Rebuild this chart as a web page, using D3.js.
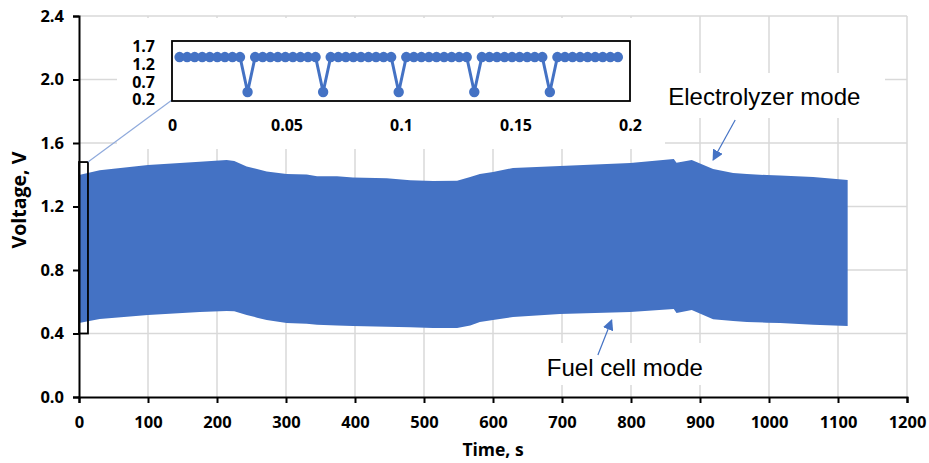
<!DOCTYPE html>
<html>
<head>
<meta charset="utf-8">
<script src="https://cdn.jsdelivr.net/npm/d3@7"></script>
<style>
  body { margin: 0; background: #fff; }
  text { font-family: "Open Sans", sans-serif; }
</style>
</head>
<body>
<div id="chart"></div>
<script>
// envelope of the voltage signal (upper = electrolyzer peaks, lower = fuel cell troughs)
var timeS = [0, 30, 100, 175, 214, 225, 243, 258, 272, 301, 330, 345, 374, 397, 446, 480, 513, 548, 567, 581, 600, 629, 697, 799, 862, 866, 888, 919, 948, 968, 997, 1016, 1064, 1114];
var upperV = [1.398, 1.428, 1.461, 1.482, 1.493, 1.487, 1.452, 1.436, 1.420, 1.405, 1.402, 1.390, 1.390, 1.382, 1.378, 1.365, 1.361, 1.362, 1.386, 1.405, 1.417, 1.443, 1.455, 1.474, 1.499, 1.476, 1.493, 1.436, 1.411, 1.405, 1.398, 1.395, 1.386, 1.367];
var lowerV = [0.466, 0.491, 0.517, 0.535, 0.542, 0.540, 0.517, 0.500, 0.485, 0.466, 0.462, 0.455, 0.450, 0.447, 0.443, 0.440, 0.435, 0.435, 0.450, 0.472, 0.485, 0.504, 0.523, 0.535, 0.554, 0.529, 0.548, 0.490, 0.479, 0.472, 0.468, 0.466, 0.455, 0.447];

// zoomed inset: first 0.2 s
var insetT = [0.0033, 0.0066, 0.0099, 0.0132, 0.0165, 0.0198, 0.0231, 0.0264, 0.0297, 0.0330,
              0.0363, 0.0396, 0.0429, 0.0462, 0.0495, 0.0528, 0.0561, 0.0594, 0.0627, 0.0660,
              0.0693, 0.0726, 0.0759, 0.0792, 0.0825, 0.0858, 0.0891, 0.0924, 0.0957, 0.0990,
              0.1023, 0.1056, 0.1089, 0.1122, 0.1155, 0.1188, 0.1221, 0.1254, 0.1287, 0.1320,
              0.1353, 0.1386, 0.1419, 0.1452, 0.1485, 0.1518, 0.1551, 0.1584, 0.1617, 0.1650,
              0.1683, 0.1716, 0.1749, 0.1782, 0.1815, 0.1848, 0.1881, 0.1914, 0.1947];
var insetV = [1.39, 1.39, 1.39, 1.39, 1.39, 1.39, 1.39, 1.39, 1.39, 0.41,
              1.39, 1.39, 1.39, 1.39, 1.39, 1.39, 1.39, 1.39, 1.39, 0.41,
              1.39, 1.39, 1.39, 1.39, 1.39, 1.39, 1.39, 1.39, 1.39, 0.41,
              1.39, 1.39, 1.39, 1.39, 1.39, 1.39, 1.39, 1.39, 1.39, 0.41,
              1.39, 1.39, 1.39, 1.39, 1.39, 1.39, 1.39, 1.39, 1.39, 0.41,
              1.39, 1.39, 1.39, 1.39, 1.39, 1.39, 1.39, 1.39, 1.39];

var xTicks = [0, 100, 200, 300, 400, 500, 600, 700, 800, 900, 1000, 1100, 1200];
var yTicks = [0.0, 0.4, 0.8, 1.2, 1.6, 2.0, 2.4];
var insetXTicks = [0, 0.05, 0.1, 0.15, 0.2];
var insetYTicks = [0.2, 0.7, 1.2, 1.7];

var svgWidth = 929, svgHeight = 463;
var blue = '#4472C4';

var svg = d3.select('#chart').append('svg')
  .attr('width', svgWidth)
  .attr('height', svgHeight);

var x = d3.scaleLinear().domain([0, 1200]).range([79, 907]);
var y = d3.scaleLinear().domain([0, 2.4]).range([397, 16]);

// gridlines
var grid = svg.append('g').attr('stroke', '#d9d9d9').attr('stroke-width', 1.5);
grid.selectAll('.h').data(yTicks.slice(1)).enter().append('line')
  .attr('x1', x(0)).attr('x2', x(1200))
  .attr('y1', d => y(d)).attr('y2', d => y(d));
grid.selectAll('.v').data(xTicks.slice(1)).enter().append('line')
  .attr('x1', d => x(d)).attr('x2', d => x(d))
  .attr('y1', y(0)).attr('y2', y(2.4));

// white boxes behind inset and labels
svg.append('rect').attr('x', 117).attr('y', 18).attr('width', 548).attr('height', 131).attr('fill', '#fff');
svg.append('rect').attr('x', 650).attr('y', 73).attr('width', 235).attr('height', 45).attr('fill', '#fff');
svg.append('rect').attr('x', 530).attr('y', 343).attr('width', 190).attr('height', 42).attr('fill', '#fff');

// the signal envelope
var env = timeS.map((t, i) => ({t: t, hi: upperV[i], lo: lowerV[i]}));
var area = d3.area()
  .x(d => x(d.t))
  .y0(d => y(d.lo))
  .y1(d => y(d.hi));
svg.append('path').datum(env)
  .attr('d', area)
  .attr('fill', blue);

// axes
var xAxis = d3.axisBottom(x).tickValues(xTicks).tickSize(6).tickPadding(13).tickFormat(d3.format('d'));
var yAxis = d3.axisLeft(y).tickValues(yTicks).tickSize(6).tickPadding(9).tickFormat(d3.format('.1f'));

var gx = svg.append('g').attr('transform', `translate(0, ${y(0)})`).call(xAxis);
var gy = svg.append('g').attr('transform', `translate(${x(0)}, 0)`).call(yAxis);
[gx, gy].forEach(function(g) {
  g.select('.domain').attr('stroke', '#000').attr('stroke-width', 2);
  g.selectAll('.tick line').attr('stroke', '#000').attr('stroke-width', 2);
  g.selectAll('.tick text')
    .attr('fill', '#000')
    .style('font-family', '"Open Sans", sans-serif')
    .style('font-weight', 700)
    .style('font-size', '16.5px');
});

// axis titles
svg.append('text')
  .attr('x', 493).attr('y', 456)
  .attr('text-anchor', 'middle')
  .style('font-weight', 700).style('font-size', '17.5px')
  .text('Time, s');
svg.append('text')
  .attr('transform', 'translate(26, 200) rotate(-90)')
  .attr('text-anchor', 'middle')
  .style('font-weight', 700).style('font-size', '19.5px')
  .text('Voltage, V');

// box marking the zoomed region
svg.append('rect')
  .attr('x', x(0)).attr('y', y(1.48))
  .attr('width', x(13) - x(0)).attr('height', y(0.4) - y(1.48))
  .attr('fill', 'none').attr('stroke', '#000').attr('stroke-width', 1.8);

// inset
var ix = d3.scaleLinear().domain([0, 0.2]).range([172, 630]);
var iy = d3.scaleLinear().domain([0.2, 1.7]).range([99.5, 46]);

svg.append('line')
  .attr('x1', x(13)).attr('y1', y(1.48))
  .attr('x2', ix(0)).attr('y2', 100)
  .attr('stroke', '#8FAADC').attr('stroke-width', 1.2);

svg.append('rect')
  .attr('x', ix(0)).attr('y', 41)
  .attr('width', ix(0.2) - ix(0)).attr('height', 60)
  .attr('fill', '#fff').attr('stroke', '#000').attr('stroke-width', 1.8);

var insetPts = insetT.map((t, i) => ({t: t, v: insetV[i]}));
svg.append('path').datum(insetPts)
  .attr('d', d3.line().x(d => ix(d.t)).y(d => iy(d.v)))
  .attr('fill', 'none').attr('stroke', blue).attr('stroke-width', 3);
svg.append('g').selectAll('circle').data(insetPts).enter().append('circle')
  .attr('cx', d => ix(d.t)).attr('cy', d => iy(d.v))
  .attr('r', 5.2).attr('fill', blue);

var ixAxis = d3.axisBottom(ix).tickValues(insetXTicks).tickSize(0).tickPadding(19).tickFormat(d => String(d));
var iyAxis = d3.axisLeft(iy).tickValues(insetYTicks).tickSize(0).tickPadding(17).tickFormat(d3.format('.1f'));
var gix = svg.append('g').attr('transform', 'translate(0, 101)').call(ixAxis);
var giy = svg.append('g').attr('transform', `translate(${ix(0)}, 0)`).call(iyAxis);
[gix, giy].forEach(function(g) {
  g.select('.domain').remove();
  g.selectAll('.tick text')
    .attr('fill', '#000')
    .style('font-family', '"Open Sans", sans-serif')
    .style('font-weight', 700)
    .style('font-size', '16px');
});
giy.selectAll('.tick text').attr('dy', '0.34em');

// annotations
svg.append('defs').append('marker')
  .attr('id', 'arrow')
  .attr('viewBox', '0 0 10 10')
  .attr('refX', 9).attr('refY', 5)
  .attr('markerWidth', 11).attr('markerHeight', 11)
  .attr('markerUnits', 'userSpaceOnUse')
  .attr('orient', 'auto')
  .append('path').attr('d', 'M0,0 L10,5 L0,10 Z').attr('fill', blue);

svg.append('line')
  .attr('x1', x(951)).attr('y1', y(1.745))
  .attr('x2', x(919)).attr('y2', y(1.493))
  .attr('stroke', blue).attr('stroke-width', 1.2)
  .attr('marker-end', 'url(#arrow)');
svg.append('line')
  .attr('x1', x(752)).attr('y1', y(0.265))
  .attr('x2', x(772)).attr('y2', y(0.485))
  .attr('stroke', blue).attr('stroke-width', 1.2)
  .attr('marker-end', 'url(#arrow)');

svg.append('text')
  .attr('x', x(854)).attr('y', y(1.84))
  .style('font-family', '"Liberation Sans", Arial, sans-serif')
  .style('font-size', '24px')
  .text('Electrolyzer mode');
svg.append('text')
  .attr('x', x(678)).attr('y', y(0.132))
  .style('font-family', '"Liberation Sans", Arial, sans-serif')
  .style('font-size', '24px')
  .text('Fuel cell mode');
</script>
</body>
</html>
